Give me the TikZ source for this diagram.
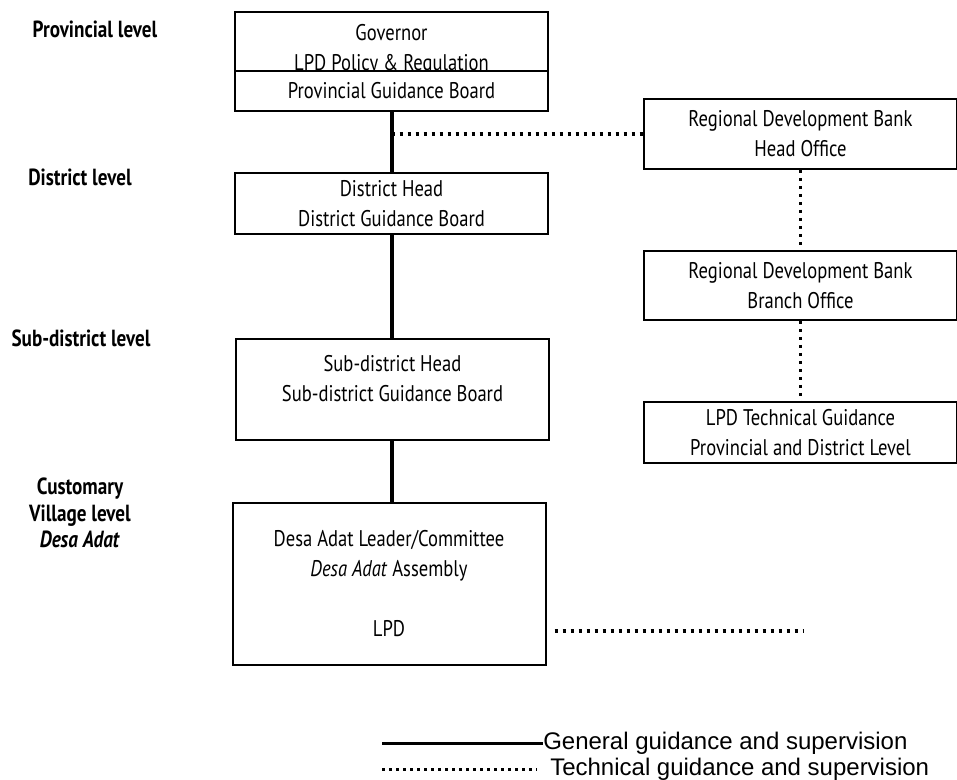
\documentclass[tikz,border=0pt]{standalone}
\usepackage{fontspec}
\setmainfont{PT Sans}[FakeStretch=0.82]
\newfontfamily\keyfont{Liberation Sans}
\usetikzlibrary{positioning}

\begin{document}
\begin{tikzpicture}[x=0.75pt, y=-0.75pt,
    box/.style={draw, line width=1.5pt, fill=white, align=center, inner sep=0pt, minimum width=234.75pt, font=\fontsize{17}{22.5}\selectfont},
    lvl/.style={align=center, font=\fontsize{17.5}{20}\selectfont\bfseries},
    general/.style={line width=3pt},
    technical/.style={line width=2.6pt, dash pattern=on 2.6pt off 3.4pt},
    keyline/.style={line width=2.25pt},
    keydots/.style={line width=2.25pt, dash pattern=on 2.25pt off 3pt},
    keytext/.style={anchor=west, inner sep=0pt, font=\keyfont\fontsize{18}{20}\selectfont},]
    \useasboundingbox (0,0) rectangle (957,780);
    % levels
    \node[lvl] (provlvl) at (95,29) {Provincial level};
    \node[lvl] (distlvl) at (80,177) {District level};
    \node[lvl] (sublvl) at (81,338) {Sub-district level};
    \node[lvl] (villvl) at (80,513) {Customary\\Village level\\\textit{Desa Adat}};
    % left column
    \node[box, minimum height=57pt] (gov) at (391.5,50) {Governor\\LPD Policy \& Regulation};
    \node[box, minimum height=30pt] (pgb) at (391.5,91) {Provincial Guidance Board};
    \node[box, minimum height=45.75pt] (district) at (391.5,203.5) {District Head\\District Guidance Board};
    \node[box, minimum height=75.75pt, text depth=16pt] (sub) at (392.5,389.5) {Sub-district Head\\Sub-district Guidance Board};
    \node[box, minimum height=121.5pt] (desa) at (389,584) {Desa Adat Leader/Committee\\\textit{Desa Adat} Assembly\\[22.5pt]LPD};
    % bank column
    \node[box, minimum height=52.5pt] (rdbhead) at (800.5,134) {Regional Development Bank\\Head Office};
    \node[box, minimum height=51.75pt] (rdbbranch) at (800.5,285.5) {Regional Development Bank\\Branch Office};
    \node[box, minimum height=45.75pt] (lpdtech) at (800.5,432.5) {LPD Technical Guidance\\Provincial and District Level};
    % general guidance
    \draw[general] (pgb) -- (district);
    \draw[general] (district.south) -- (district.south |- sub.north);
    \draw[general] (sub.south -| district.south) -- (district.south |- desa.north);
    % technical guidance
    \draw[technical] (rdbhead.west -| pgb.south) -- (rdbhead.west);
    \draw[technical] (rdbhead) -- (rdbbranch);
    \draw[technical] (rdbbranch) -- (lpdtech);
    \coordinate (lpdend) at (803,631);
    \draw[technical, shorten <=6pt] (desa.east |- lpdend) -- (lpdend);
    % key
    \coordinate (keyA) at (382,743);
    \coordinate (keyB) at (382,769);
    \node[keytext] (keyG) at (543,743) {General guidance and supervision};
    \node[keytext] (keyT) at (550,769) {Technical guidance and supervision};
    \draw[keyline] (keyA) -- (keyG.west);
    \draw[keydots] (keyB) -- ([xshift=-10pt]keyT.west);
\end{tikzpicture}
\end{document}
